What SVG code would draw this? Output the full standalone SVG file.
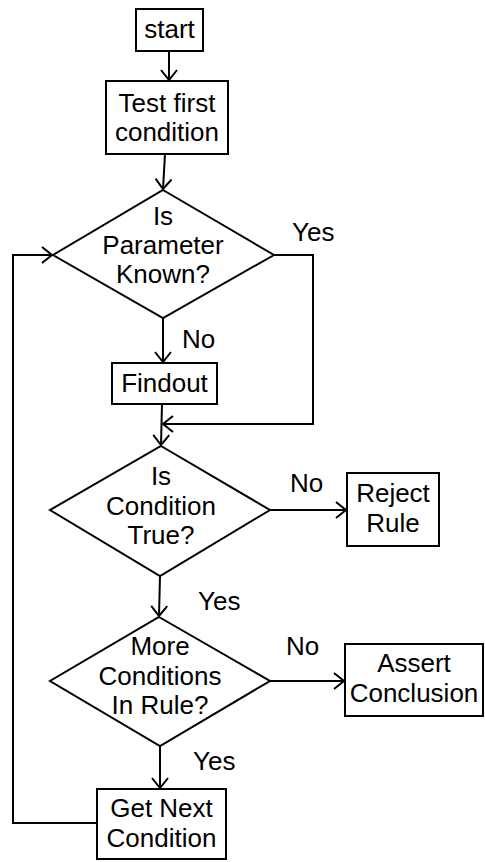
<svg xmlns="http://www.w3.org/2000/svg" width="485" height="862" viewBox="0 0 485 862">
<style>
.s{fill:#fff;stroke:#000;stroke-width:2}
.t{font-family:"Liberation Sans",Arial,sans-serif;font-size:26px;fill:#000;text-anchor:middle}
.l{font-family:"Liberation Sans",Arial,sans-serif;font-size:26px;fill:#000}
.c{fill:none;stroke:#000;stroke-width:2;marker-end:url(#a)}
</style>
<defs>
<marker id="a" viewBox="0 0 12 18" refX="11" refY="9" markerWidth="12" markerHeight="18" markerUnits="userSpaceOnUse" orient="auto">
<polyline points="1,1 11,9 1,17" fill="none" stroke="#000" stroke-width="2"/>
</marker>
</defs>
<rect width="485" height="862" fill="#fff"/>
<g id="connectors">
<line class="c" x1="169" y1="51" x2="169" y2="80"/>
<line class="c" x1="165" y1="154" x2="163" y2="189"/>
<line class="c" x1="163" y1="318" x2="163" y2="362"/>
<line class="c" x1="162" y1="404" x2="161" y2="445"/>
<polyline class="c" points="274,255 313,255 313,424 163,424"/>
<line class="c" x1="270" y1="510" x2="346" y2="510"/>
<line class="c" x1="160" y1="576" x2="159" y2="616"/>
<line class="c" x1="270" y1="681" x2="344" y2="681"/>
<line class="c" x1="160" y1="746" x2="160" y2="788"/>
<polyline class="c" points="97,823 13,823 13,255 52,255"/>
</g>
<g id="labels">
<text class="l" x="292" y="241">Yes</text>
<text class="l" x="182" y="348">No</text>
<text class="l" x="290" y="492">No</text>
<text class="l" x="198" y="610">Yes</text>
<text class="l" x="286" y="655">No</text>
<text class="l" x="193" y="770">Yes</text>
</g>
<g id="start">
<rect class="s" x="136" y="9" width="67" height="42"/>
<text class="t" x="169.5" y="38">start</text>
</g>
<g id="test">
<rect class="s" x="106" y="81" width="122" height="73"/>
<text class="t" x="167" y="112">Test first</text>
<text class="t" x="167" y="141">condition</text>
</g>
<g id="paramKnown">
<polygon class="s" points="163,190 274,255 163,318 53,255"/>
<text class="t" x="163" y="225">Is</text>
<text class="t" x="163" y="254">Parameter</text>
<text class="t" x="163" y="283">Known?</text>
</g>
<g id="findout">
<rect class="s" x="112" y="363" width="105" height="41"/>
<text class="t" x="164.5" y="392">Findout</text>
</g>
<g id="condTrue">
<polygon class="s" points="161,446 270,510 160,576 50,510"/>
<text class="t" x="161" y="485">Is</text>
<text class="t" x="161" y="515">Condition</text>
<text class="t" x="161" y="544">True?</text>
</g>
<g id="reject">
<rect class="s" x="347" y="473" width="92" height="73"/>
<text class="t" x="393" y="502">Reject</text>
<text class="t" x="393" y="532">Rule</text>
</g>
<g id="moreCond">
<polygon class="s" points="159,617 270,681 160,746 50,681"/>
<text class="t" x="160" y="655">More</text>
<text class="t" x="160" y="685">Conditions</text>
<text class="t" x="160" y="714">In Rule?</text>
</g>
<g id="assert">
<rect class="s" x="345" y="644" width="138" height="72"/>
<text class="t" x="414" y="672">Assert</text>
<text class="t" x="414" y="702">Conclusion</text>
</g>
<g id="getNext">
<rect class="s" x="97" y="789" width="129" height="70"/>
<text class="t" x="161.5" y="817">Get Next</text>
<text class="t" x="161.5" y="847">Condition</text>
</g>
</svg>
